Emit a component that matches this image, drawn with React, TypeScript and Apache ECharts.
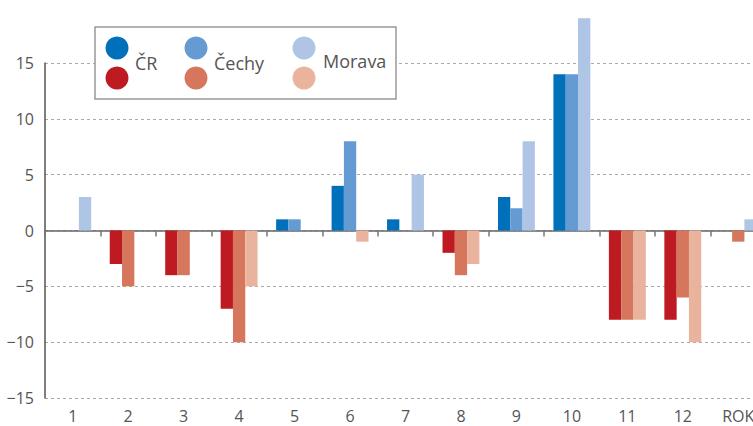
import React, { useEffect, useRef } from "react";
import * as echarts from "echarts";

const categories = ["1", "2", "3", "4", "5", "6", "7", "8", "9", "10", "11", "12", "ROK"];
const seriesNames = ["ČR", "Čechy", "Morava"];
const crValues = [0, -3, -4, -7, 1, 4, 1, -2, 3, 14, -8, -8, 0];
const cechyValues = [0, -5, -4, -10, 1, 8, 0, -4, 2, 14, -8, -6, -1];
const moravaValues = [3, 0, 0, -5, 0, -1, 5, -3, 8, 19, -8, -10, 1];
const positiveColors = ["#0070ba", "#659bd3", "#afc5e6"];
const negativeColors = ["#be1a21", "#d6765c", "#eab39e"];
const yTicks = [-15, -10, -5, 0, 5, 10, 15];

const FONT = "'Open Sans', 'Noto Sans', sans-serif";

export default function App() {
  const ref = useRef<HTMLDivElement>(null);
  useEffect(() => {
    if (!ref.current) return;
    const chart = echarts.init(ref.current, null, { renderer: "svg" });
    const all = [crValues, cechyValues, moravaValues];
    const series = all.map((vals, i) => ({
      name: seriesNames[i],
      type: "bar",
      xAxisIndex: 0,
      barWidth: 12.3,
      barGap: "0%",
      clip: false,
      data: vals.map((v) => ({
        value: v,
        itemStyle: { color: v >= 0 ? positiveColors[i] : negativeColors[i] },
      })),
    }));

    const legendItems: any[] = [];
    const legendX = [117, 196, 304];
    const labelX = [135, 214, 323];
    seriesNames.forEach((n, i) => {
      legendItems.push({ type: "circle", shape: { cx: legendX[i], cy: 48, r: 11.5 }, style: { fill: positiveColors[i] } });
      legendItems.push({ type: "circle", shape: { cx: legendX[i], cy: 78, r: 11.5 }, style: { fill: negativeColors[i] } });
      legendItems.push({
        type: "text",
        x: labelX[i],
        y: i === 2 ? 61 : 63,
        style: { text: n, fill: "#555", font: `18px ${FONT}`, verticalAlign: "middle", align: "left" },
      });
    });

    chart.setOption({
      animation: false,
      grid: { left: 45, top: 63, width: 721, height: 335 },
      xAxis: [
        {
          type: "category",
          data: categories,
          axisLine: { show: true, onZero: true, lineStyle: { color: "#666", width: 1.5 } },
          axisTick: { show: true, interval: 0, length: 6, lineStyle: { color: "#777", width: 1.5 } },
          axisLabel: { show: false },
          splitLine: { show: false },
        },
        {
          type: "category",
          data: categories,
          position: "bottom",
          axisLine: { show: false, onZero: false },
          axisTick: { show: false },
          axisLabel: { show: true, interval: 0, margin: 10, color: "#555", fontSize: 16, fontFamily: FONT },
        },
      ],
      yAxis: {
        type: "value",
        min: yTicks[0],
        max: yTicks[yTicks.length - 1],
        interval: 5,
        axisLine: { show: true, lineStyle: { color: "#555", width: 1.5 } },
        axisTick: { show: false },
        axisLabel: {
          margin: 11,
          color: "#555",
          fontSize: 16,
          fontFamily: FONT,
          formatter: (v: number) => (v < 0 ? "\u2212" + Math.abs(v) : String(v)),
        },
        splitLine: { show: true, lineStyle: { color: "#aaa", type: [3, 3], width: 1 } },
      },
      series,
      graphic: [
        {
          type: "rect",
          shape: { x: 95, y: 27, width: 301, height: 72 },
          style: { fill: "#fff", stroke: "#999", lineWidth: 1.5 },
          z: 100,
        },
        ...legendItems.map((g) => ({ ...g, z: 101 })),
      ],
    });
    return () => chart.dispose();
  }, []);
  return (
    <div style={{ width: 753, height: 426, position: "absolute", left: 0, top: 0, overflow: "hidden" }}>
      <div ref={ref} style={{ width: 790, height: 426 }} />
    </div>
  );
}
